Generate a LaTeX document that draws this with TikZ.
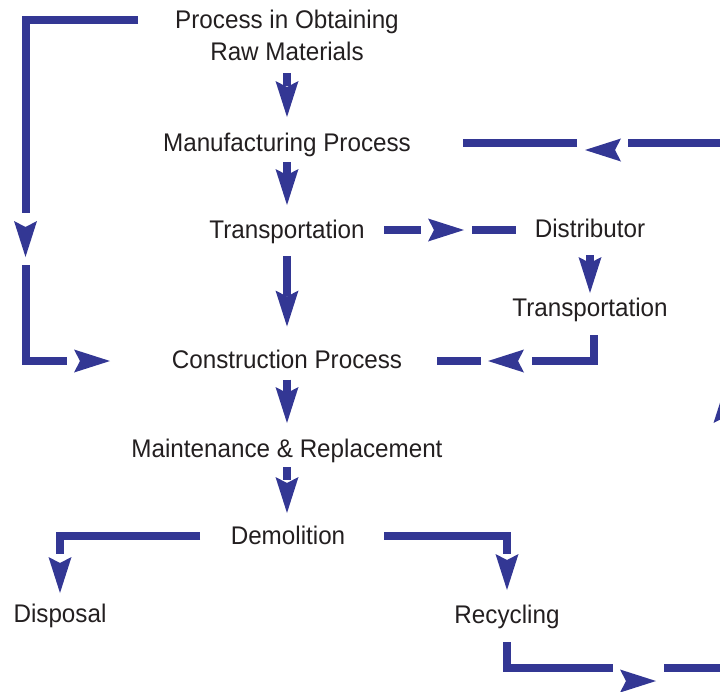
\documentclass[tikz,border=0pt]{standalone}
\usepackage{fontspec}
\setmainfont[FakeStretch=0.95]{Liberation Sans}
\usetikzlibrary{calc,decorations.markings}

\definecolor{flowblue}{RGB}{51,55,148}
\definecolor{inkgray}{RGB}{35,31,32}

% arrow head, tip at the origin
\newcommand{\flowtip}[1][0pt]{\fill[flowblue,yshift=#1] (0pt,0pt) -- (-36pt,11.5pt) -- (-30pt,0pt) -- (-36pt,-11.5pt) -- cycle;}

\tikzset{
  stage/.style={font=\fontsize{25.5pt}{32.4pt}\selectfont, text=inkgray, inner sep=0pt, text height=18.3pt, text depth=0pt},
  link/.style={draw=flowblue, line width=8pt},
  head/.style={postaction={decorate, decoration={markings, mark=at position #1 with {\flowtip}}}},
  lowhead/.style 2 args={postaction={decorate, decoration={markings, mark=at position #1 with {\flowtip[#2]}}}}
}

\begin{document}
\begin{tikzpicture}[x=1pt, y=-1pt]
% page size
\useasboundingbox (0,0) rectangle (720,691);
\clip (0,0) rectangle (720,691);

% the stages
\node[stage, align=center, text height=50.7pt] (raw) at (287,35.4) {Process in Obtaining\\Raw Materials};
\node[stage] (manuf) at (287,142) {Manufacturing Process};
\node[stage] (transA) at (287,229) {Transportation};
\node[stage] (distr) at (590,228.5) {Distributor};
\node[stage] (transB) at (590,307.5) {Transportation};
\node[stage] (constr) at (287,359.5) {Construction Process};
\node[stage] (maint) at (287,448) {Maintenance \& Replacement};
\node[stage] (demol) at (288,535) {Demolition};
\node[stage] (disp) at (60,613.5) {Disposal};
\node[stage] (recyc) at (507,614) {Recycling};
\coordinate (loopSE) at (725,668);

% main column
\draw[link, dash pattern=on 13pt off 40pt, head=1] ($(raw)+(0,37.6)$) -- ($(manuf)+(0,-25)$);
\draw[link, dash pattern=on 13pt off 40pt, head=1] ($(manuf)+(0,20)$) -- ($(transA)+(0,-24)$);
\draw[link, dash pattern=on 40pt off 40pt, head=1] ($(transA)+(0,27)$) -- ($(constr)+(0,-33)$);
\draw[link, dash pattern=on 13pt off 40pt, head=1] ($(constr)+(0,20)$) -- ($(maint)+(0,-25)$);
\draw[link, dash pattern=on 13pt off 40pt, head=1] ($(maint)+(0,19)$) -- ($(maint|-demol)+(0,-22)$);

% via the distributor
\draw[link, dash pattern=on 37pt off 51pt on 44pt off 100pt, head=80pt] ($(transA)+(97,1)$) -- ($(distr)+(-74,1.5)$);
\draw[link, dash pattern=on 8pt off 40pt, head=1] ($(distr)+(0,26.5)$) -- ($(transB)+(0,-14.5)$);
\draw[link, dash pattern=on 88pt off 51pt on 44pt off 100pt, head=132pt] ($(transB)+(4,27.5)$) |- ($(constr)+(150,1.5)$);

% raw materials straight to construction
\draw[link, dash pattern=on 305.5pt off 52pt on 137.5pt off 200pt, head=349.5pt, head=1] ($(raw)+(-149,-15.4)$) -| ($(constr)+(-261.5,1.5)$) -- ($(constr)+(-177,1.5)$);

% end of life
\draw[link, dash pattern=on 158pt off 100pt, head=1] ($(demol)+(-88,1)$) -| ($(disp)+(0,-20.5)$);
\draw[link, dash pattern=on 141pt off 100pt, head=1] ($(demol)+(96,1)$) -| ($(recyc)+(0,-24)$);

% recycling back to manufacturing
\draw[link, dash pattern=on 132pt off 51pt on 297pt off 52pt on 334pt off 51pt on 114pt off 100pt, lowhead={175pt}{-13pt}, head=525pt, lowhead={909pt}{7pt}] ($(recyc)+(0,28)$) |- (loopSE) |- ($(manuf)+(176,1)$);
\end{tikzpicture}
\end{document}
